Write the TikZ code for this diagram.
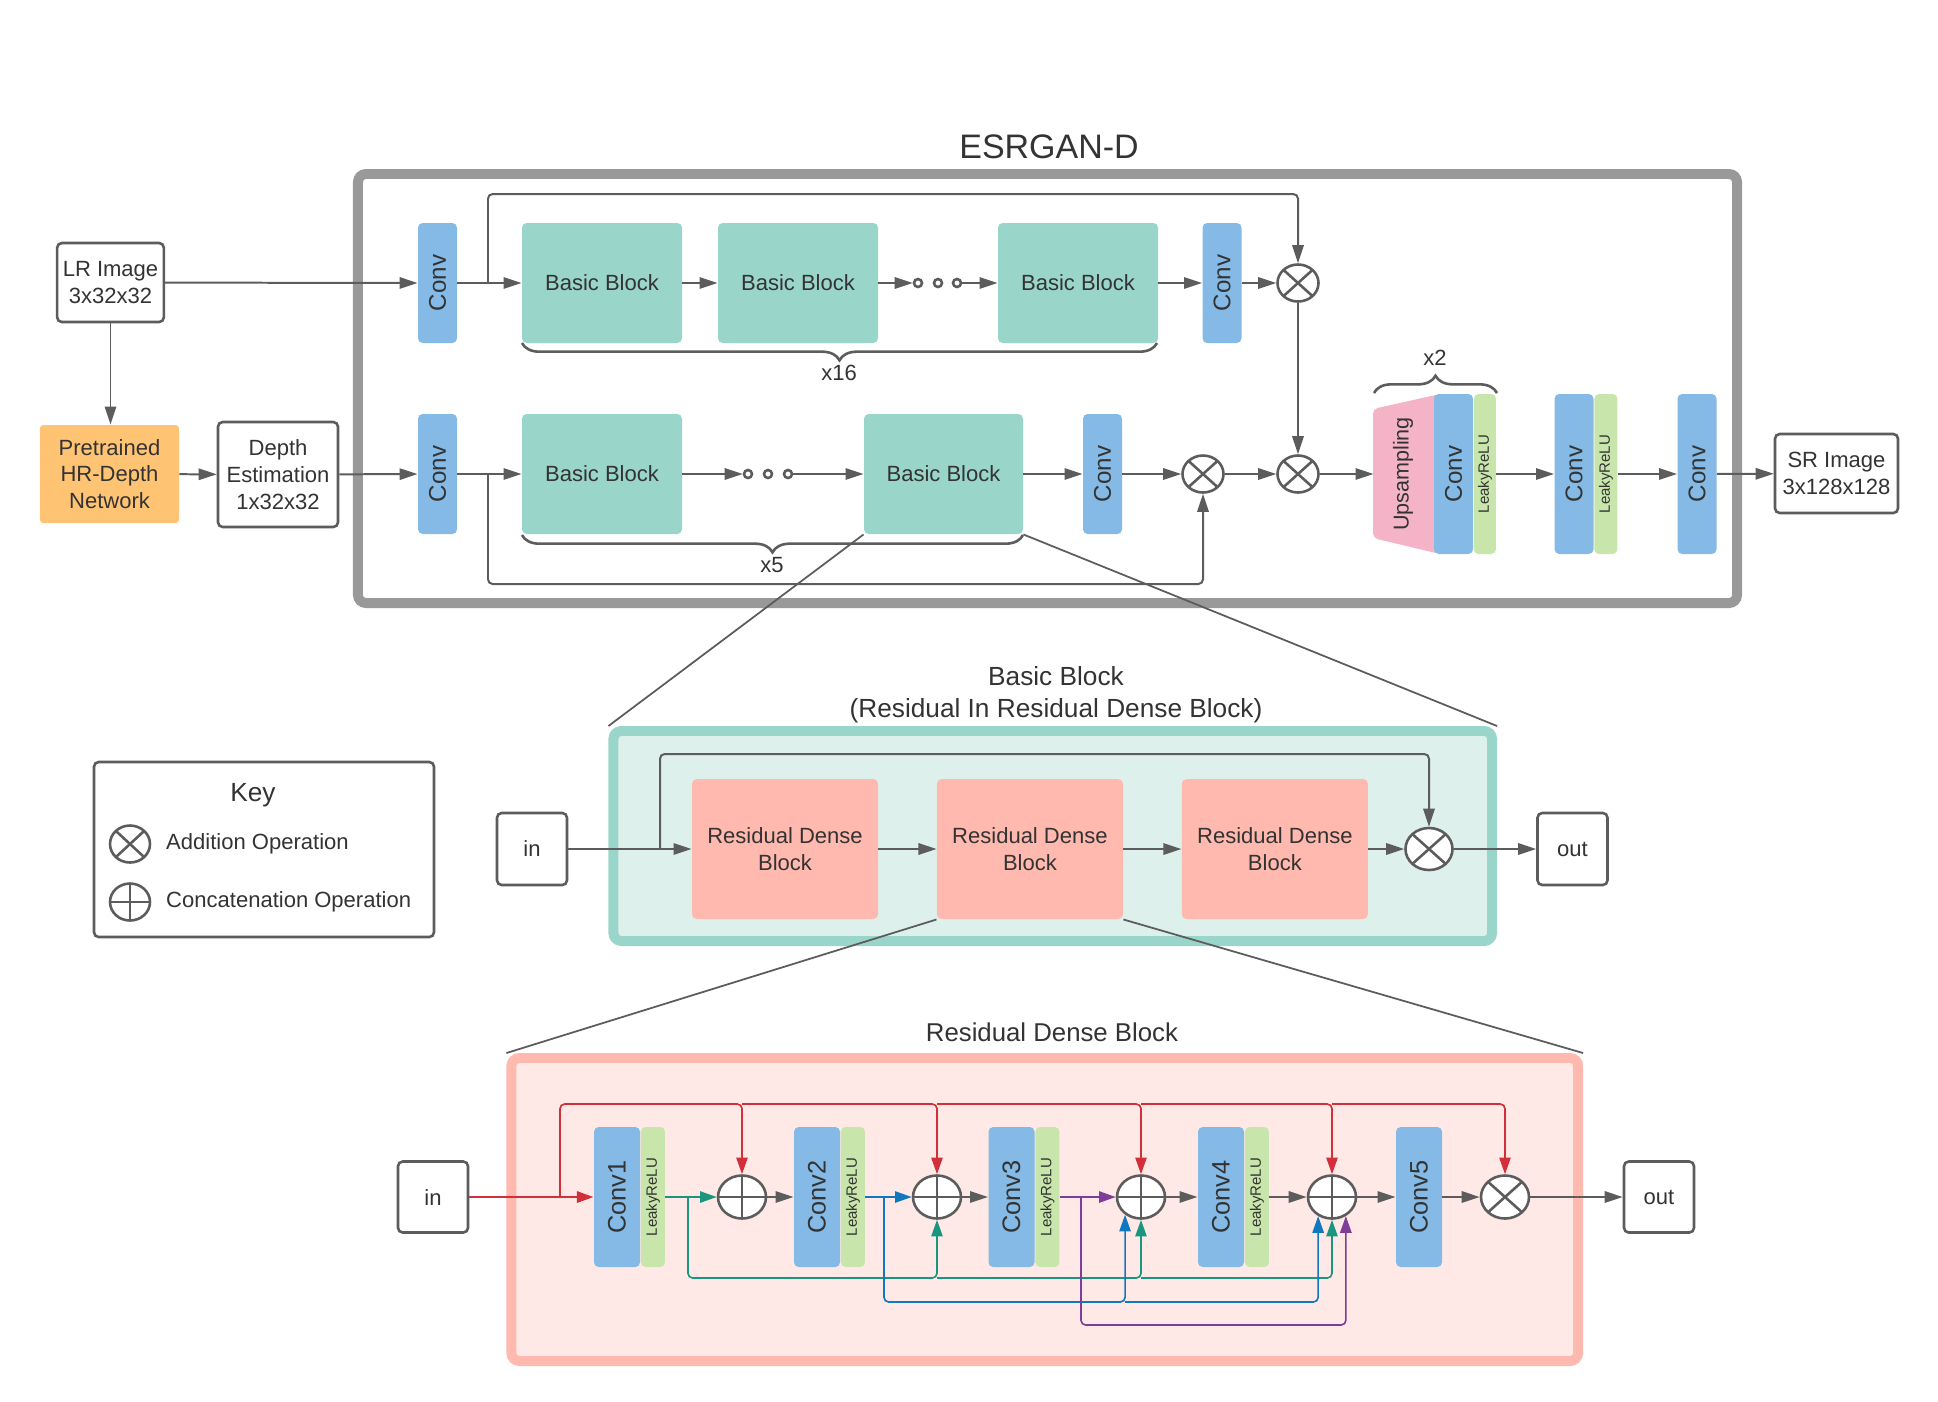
\documentclass[tikz,border=0pt]{standalone}
\usepackage{graphicx}
\usepackage{fontspec}
\setmainfont{Liberation Sans}
\usepackage{tikz}
\usetikzlibrary{shapes.geometric, arrows.meta, positioning, calc, decorations.pathreplacing}
\definecolor{ConvBlue}{HTML}{84BAE5}
\definecolor{ReluGreen}{HTML}{C8E6AB}
\definecolor{BlockTeal}{HTML}{9AD5CA}
\definecolor{TealFill}{HTML}{DDF0EC}
\definecolor{DenseSalmon}{HTML}{FFB9AE}
\definecolor{DenseFill}{HTML}{FFE9E6}
\definecolor{UpPink}{HTML}{F4B3C6}
\definecolor{NetOrange}{HTML}{FFC374}
\definecolor{FrameGray}{HTML}{999999}
\definecolor{LineGray}{HTML}{5C5C5C}
\definecolor{TextGray}{HTML}{333333}
\definecolor{SkipRed}{HTML}{D12F3A}
\definecolor{SkipGreen}{HTML}{19967D}
\definecolor{SkipBlue}{HTML}{1078BF}
\definecolor{SkipPurple}{HTML}{7E3D96}
\newcommand{\vlabel}[1]{\rotatebox{90}{#1}}

\begin{document}
\begin{tikzpicture}[
    x=0.015cm, y=-0.015cm,
    font=\fontsize{9.4}{11.4}\selectfont, text=TextGray,
    node distance=0.87cm,
    frame/.style={rectangle, rounded corners=0.12cm, line width=4.25pt},
    iobox/.style={rectangle, draw=LineGray, fill=white, line width=1.1pt,
                  rounded corners=0.07cm, align=center, inner sep=0pt},
    conv/.style={rectangle, fill=ConvBlue, rounded corners=0.07cm, minimum width=0.585cm,
                 minimum height=1.8cm, inner sep=0pt, font=\fontsize{10.3}{12}\selectfont},
    relu/.style={rectangle, fill=ReluGreen, rounded corners=0.07cm, minimum width=0.33cm,
                 minimum height=2.4cm, inner sep=0pt, font=\fontsize{6.4}{7}\selectfont},
    block/.style={rectangle, fill=BlockTeal, rounded corners=0.07cm, minimum width=2.4cm,
                  minimum height=1.8cm, inner sep=0pt},
    dense/.style={rectangle, fill=DenseSalmon, rounded corners=0.07cm, minimum width=2.79cm,
                  minimum height=2.1cm, align=center, inner sep=0pt},
    dconv/.style={conv, minimum width=0.69cm, minimum height=2.1cm, font=\fontsize{10.8}{13}\selectfont},
    drelu/.style={relu, minimum width=0.36cm, minimum height=2.1cm},
    opnode/.style={ellipse, draw=LineGray, fill=white, line width=1.1pt, inner sep=0pt,
                   minimum width=0.615cm, minimum height=0.555cm},
    addop/.style={opnode, path picture={\draw[LineGray, line width=1.1pt]
        (path picture bounding box.north west) -- (path picture bounding box.south east)
        (path picture bounding box.south west) -- (path picture bounding box.north east);}},
    catop/.style={opnode, minimum width=0.72cm, minimum height=0.645cm, path picture={\draw[LineGray, line width=1.1pt]
        (path picture bounding box.north) -- (path picture bounding box.south)
        (path picture bounding box.west) -- (path picture bounding box.east);}},
    dot/.style={circle, draw=LineGray, line width=1.1pt, fill=white, inner sep=0pt, minimum size=0.12cm},
    arr/.style={draw=LineGray, line width=0.85pt, rounded corners=0.07cm,
                -{Triangle[length=0.27cm, width=0.17cm]}},
    skip/.style={line width=0.7pt, rounded corners=0.07cm, -{Triangle[length=0.25cm, width=0.17cm]}},
    zoomline/.style={draw=LineGray, line width=0.75pt},
    brace/.style={draw=LineGray, line width=1.1pt, decorate, decoration={brace, amplitude=0.26cm}}
]
    \useasboundingbox (0,0) rectangle (1938,1401);

    % Frames
    \node[frame, draw=FrameGray, minimum width=20.685cm, minimum height=6.435cm] (esrgan) at (1047.5,388.5) {};
    \node[frame, draw=BlockTeal, fill=TealFill, minimum width=13.18cm, minimum height=3.15cm] (bbframe) at (1052.75,836) {};
    \node[frame, draw=DenseSalmon, fill=DenseFill, minimum width=16cm, minimum height=4.545cm] (rdbframe) at (1044.75,1209.5) {};
    \node[font=\fontsize{14.5}{17}\selectfont] (title) at (1049,147) {ESRGAN-D};

    % Inputs
    \node[iobox, minimum width=1.6cm, minimum height=1.185cm] (lr) at (110.5,282.5) {LR Image\\3x32x32};
    \node[rectangle, fill=NetOrange, rounded corners=0.05cm, minimum width=2.085cm, minimum height=1.47cm,
          align=center, inner sep=0pt] (hrdepth) at (109.5,474) {Pretrained\\HR-Depth\\Network};
    \node[iobox, minimum width=1.8cm, minimum height=1.575cm] (depth) at (278,474.5) {Depth\\Estimation\\1x32x32};

    % Image branch
    \node[conv] (convA) at (437.5,283) {\vlabel{Conv}};
    \node[block] (bbA1) at (602,283) {Basic Block};
    \node[block] (bbA2) at (798,283) {Basic Block};
    \node[dot] (dA1) at (918,283) {};
    \node[dot] (dA2) at (938,283) {};
    \node[dot] (dA3) at (957,283) {};
    \node[block] (bbA3) at (1078,283) {Basic Block};
    \node[conv] (convA2) at (1222,283) {\vlabel{Conv}};
    \node[addop] (addA) at (1298,283) {};
    \coordinate (splitA) at (488,283);

    % Depth branch
    \node[conv] (convB) at (437.5,474) {\vlabel{Conv}};
    \node[block] (bbB1) at (602,474) {Basic Block};
    \node[dot] (dB1) at (748,474) {};
    \node[dot] (dB2) at (768,474) {};
    \node[dot] (dB3) at (788,474) {};
    \node[block, minimum width=2.385cm] (bbB2) at (943.5,474) {Basic Block};
    \node[conv] (convB2) at (1102.5,474) {\vlabel{Conv}};
    \node[addop] (addB1) at (1203,474) {};
    \node[addop] (addB2) at (1298,474) {};
    \coordinate (splitB) at (488,474);

    % Upsampling and output
    \fill[UpPink, rounded corners=0.07cm] (1373,409) -- (1440,394) -- (1440,554) -- (1373,538) -- cycle;
    \node[minimum width=0.87cm, minimum height=1.98cm, inner sep=0pt,
          font=\fontsize{9.2}{11}\selectfont] (ups) at (1403,474) {\vlabel{Upsampling}};
    \node[conv, minimum height=2.4cm] (convU) at (1453.5,474) {\vlabel{Conv}};
    \node[relu, right=0pt of convU] (reluU) {\vlabel{LeakyReLU}};
    \node[conv, minimum height=2.4cm] (convC) at (1574,474) {\vlabel{Conv}};
    \node[relu, minimum width=0.345cm, right=0pt of convC] (reluC) {\vlabel{LeakyReLU}};
    \node[conv, minimum height=2.4cm] (convD) at (1697,474) {\vlabel{Conv}};
    \node[iobox, minimum width=1.845cm, minimum height=1.185cm] (sr) at (1836.5,473.5) {SR Image\\3x128x128};

    \draw[brace] (1157,343) -- (522,343);
    \node (x16) at (839,373) {x16};
    \draw[brace] (1023,535) -- (522,535);
    \node (x5) at (772,565) {x5};
    \draw[brace] (1374,393) -- (1497,393);
    \node (x2) at (1435,358) {x2};

    \draw[arr] (lr.south) -- (lr.south |- hrdepth.north);
    \draw[arr] (hrdepth) -- (depth);
    \draw[arr] (lr) -- (convA);
    \draw[arr] (convA) -- (bbA1);
    \draw[arr] (bbA1) -- (bbA2);
    \draw[arr] (bbA2) -- (dA1);
    \draw[arr] (dA3) -- (bbA3);
    \draw[arr] (bbA3) -- (convA2);
    \draw[arr] (convA2) -- (addA);
    \draw[arr] (splitA) -- ++(0,-89) -| (addA.north);
    \draw[arr] (depth) -- (convB);
    \draw[arr] (convB) -- (bbB1);
    \draw[arr] (bbB1) -- (dB1);
    \draw[arr] (dB3) -- (bbB2);
    \draw[arr] (bbB2) -- (convB2);
    \draw[arr] (convB2) -- (addB1);
    \draw[arr] (addB1) -- (addB2);
    \draw[arr] (splitB) -- ++(0,110) -| (addB1.south);
    \draw[arr] (addA) -- (addB2);
    \draw[arr] (addB2) -- (ups);
    \draw[arr] (reluU) -- (convC);
    \draw[arr] (reluC) -- (convD);
    \draw[arr] (convD) -- (sr);

    % Key
    \node[iobox, minimum width=5.1cm, minimum height=2.625cm] (key) at (264,849.5) {};
    \node[font=\fontsize{11.2}{13}\selectfont] (keytitle) at (253,795) {Key};
    \node[addop, minimum width=0.6cm, minimum height=0.555cm] (keyadd) at (130,844) {};
    \node[right=0.1cm of keyadd] (keyaddtext) {Addition Operation};
    \node[catop, minimum width=0.6cm, minimum height=0.555cm] (keycat) at (130,902) {};
    \node[right=0.1cm of keycat] (keycattext) {Concatenation Operation};

    % Basic Block
    \node[font=\fontsize{11.2}{13.6}\selectfont, align=center] (bbtitle) at (1056,695)
        {Basic Block\\(Residual In Residual Dense Block)};
    \node[iobox, minimum width=1.05cm, minimum height=1.08cm] (bbin) at (532,849) {in};
    \node[dense] (rdb1) at (785,849) {Residual Dense\\Block};
    \node[dense, right=of rdb1] (rdb2) {Residual Dense\\Block};
    \node[dense, right=of rdb2] (rdb3) {Residual Dense\\Block};
    \node[addop, minimum width=0.705cm, minimum height=0.63cm] (bbadd) at (1429,849) {};
    \node[iobox, minimum width=1.05cm, minimum height=1.08cm] (bbout) at (1572.5,849) {out};
    \coordinate (bbsplit) at (660,849);

    \draw[arr] (bbin) -- (rdb1);
    \draw[arr] (rdb1) -- (rdb2);
    \draw[arr] (rdb2) -- (rdb3);
    \draw[arr] (rdb3) -- (bbadd);
    \draw[arr] (bbadd) -- (bbout);
    \draw[arr] (bbsplit) -- ++(0,-95) -| (bbadd.north);

    % Residual Dense Block
    \node[font=\fontsize{11}{13}\selectfont] (rdbtitle) at (1052,1032) {Residual Dense Block};
    \node[iobox, minimum width=1.05cm, minimum height=1.065cm] (rdbin) at (433,1197) {in};
    \node[dconv] (c1) at (617,1197) {\vlabel{Conv1}};
    \node[drelu, right=0pt of c1] (r1) {\vlabel{LeakyReLU}};
    \node[catop] (cat1) at (742,1197) {};
    \node[dconv] (c2) at (817,1197) {\vlabel{Conv2}};
    \node[drelu, right=0pt of c2] (r2) {\vlabel{LeakyReLU}};
    \node[catop] (cat2) at (937,1197) {};
    \node[dconv] (c3) at (1011.5,1197) {\vlabel{Conv3}};
    \node[drelu, right=0pt of c3] (r3) {\vlabel{LeakyReLU}};
    \node[catop] (cat3) at (1141,1197) {};
    \node[dconv] (c4) at (1221,1197) {\vlabel{Conv4}};
    \node[drelu, right=0pt of c4] (r4) {\vlabel{LeakyReLU}};
    \node[catop] (cat4) at (1332,1197) {};
    \node[dconv] (c5) at (1419,1197) {\vlabel{Conv5}};
    \node[addop, minimum width=0.72cm, minimum height=0.645cm] (dadd) at (1505,1197) {};
    \node[iobox, minimum width=1.05cm, minimum height=1.065cm] (rdbout) at (1659,1197) {out};

    \draw[arr] (cat1) -- (c2);
    \draw[arr] (cat2) -- (c3);
    \draw[arr] (cat3) -- (c4);
    \draw[arr] (r4) -- (cat4);
    \draw[arr] (cat4) -- (c5);
    \draw[arr] (c5) -- (dadd);
    \draw[arr] (dadd) -- (rdbout);

    % dense skip connections
    \coordinate (rsplit) at (560,1197);
    \coordinate (rtop) at (560,1104);
    \draw[skip, SkipRed, line width=0.9pt] (rdbin) -- (c1);
    \draw[skip, SkipRed] (rsplit) -- (rtop) -| (cat1.north);
    \foreach \a/\b in {cat1/cat2, cat2/cat3, cat3/cat4, cat4/dadd}
        \draw[skip, SkipRed] (\a.north |- rtop) -| (\b.north);

    \coordinate (gsplit) at (688,1197);
    \coordinate (gbot) at (688,1278);
    \draw[skip, SkipGreen] (r1) -- (cat1);
    \draw[skip, SkipGreen] (gsplit) -- (gbot) -| (cat2.south);
    \draw[skip, SkipGreen] (cat2.south |- gbot) -| (cat3.south);
    \draw[skip, SkipGreen] (cat3.south |- gbot) -| (cat4.south);

    \coordinate (bsplit) at (884,1197);
    \coordinate (bbot) at (884,1302);
    \draw[skip, SkipBlue] (r2) -- (cat2);
    \draw[skip, SkipBlue] (bsplit) -- (bbot) -| (cat3.228);
    \draw[skip, SkipBlue] (cat3.228 |- bbot) -| (cat4.234);

    \coordinate (psplit) at (1081,1197);
    \coordinate (pbot) at (1081,1325);
    \draw[skip, SkipPurple] (r3) -- (cat3);
    \draw[skip, SkipPurple] (psplit) -- (pbot) -| (cat4.306);

    % Zoom lines
    \draw[zoomline] (bbB2.south west) -- (bbframe.north west);
    \draw[zoomline] (bbB2.south east) -- (bbframe.north east);
    \draw[zoomline] (rdb2.south west) -- (rdbframe.north west);
    \draw[zoomline] (rdb2.south east) -- (rdbframe.north east);
\end{tikzpicture}
\end{document}
